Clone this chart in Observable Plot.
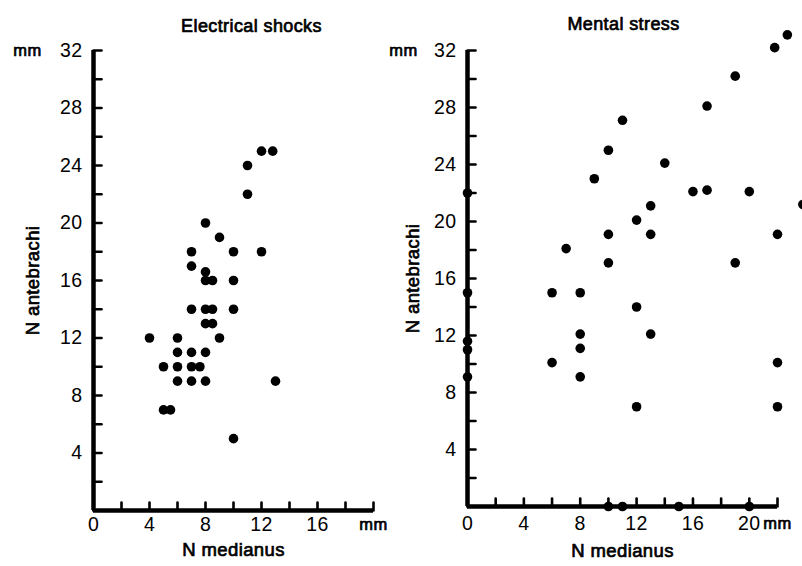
<!DOCTYPE html>
<html>
<head>
<meta charset="utf-8">
<script src="https://cdn.jsdelivr.net/npm/d3@7"></script>
<script src="https://cdn.jsdelivr.net/npm/@observablehq/plot@0.6"></script>
<style>
  html, body { margin: 0; padding: 0; background: #fff; }
  #wrap { display: flex; width: 802px; height: 566px; }
  #wrap svg { flex: none; }
  svg text { letter-spacing: 0.4px; }
</style>
</head>
<body>
<div id="wrap"></div>
<script>
// Electrical shocks: N medianus (mm), N antebrachi (mm)
const shockMedianus   = [12, 12.8, 11, 11, 8, 9, 7, 10, 12, 7, 8, 8, 8.5, 10, 7, 8, 8.5, 10, 8, 8.5, 4, 6, 9, 6, 7, 8, 5, 6, 7, 7.6, 6, 7, 8, 13, 5, 5.5, 10];
const shockAntebrachi = [25, 25, 24, 22, 20, 19, 18, 18, 18, 17, 16.6, 16, 16, 16, 14, 14, 14, 14, 13, 13, 12, 12, 12, 11, 11, 11, 10, 10, 10, 10, 9, 9, 9, 9, 7, 7, 5];

// Mental stress
const stressMedianus   = [22.7, 21.8, 19, 17, 11, 10, 14, 9, 0, 16, 17, 20, 13, 23.8, 12, 10, 13, 22, 7, 10, 19, 0, 6, 8, 12, 8, 13, 0, 0, 8, 6, 22, 0, 8, 12, 22, 10, 11, 15, 20];
const stressAntebrachi = [33.1, 32.2, 30.2, 28.1, 27.1, 25, 24.1, 23, 22, 22.1, 22.2, 22.1, 21.1, 21.2, 20.1, 19.1, 19.1, 19.1, 18.1, 17.1, 17.1, 15, 15, 15, 14, 12.1, 12.1, 11.6, 11, 11.1, 10.1, 10.1, 9.1, 9.1, 7, 7, 0, 0, 0, 0];

const titles = ["Electrical shocks", "Mental stress"];
const xTitle = "N medianus";
const yTitle = "N antebrachi";
const unit = "mm";

const yTicks = d3.range(0, 33, 2);
const yLabels = [4, 8, 12, 16, 20, 24, 28, 32];
const xTicksShock = d3.range(0, 21, 2);
const xLabelsShock = [0, 4, 8, 12, 16];
const xTicksStress = d3.range(0, 23, 2);
const xLabelsStress = [0, 4, 8, 12, 16, 20];

const FONT = "Liberation Sans, Arial, sans-serif";
const tickShape = { draw(context, l) { context.moveTo(0, 0); context.lineTo(0, -l); } };
const ink = { fill: "#000", stroke: "#000", strokeWidth: 0.7 };

function panel(cfg) {
  const pts = cfg.xs.map((x, i) => ({ x, y: cfg.ys[i] }));
  return Plot.plot({
    width: cfg.w,
    height: 566,
    marginLeft: cfg.ml,
    marginRight: cfg.mr,
    marginTop: 50,
    marginBottom: cfg.mb,
    style: { fontFamily: FONT, fontSize: "18px", color: "#000", background: "#fff" },
    x: { domain: cfg.xDomain, axis: null },
    y: { domain: [0, 32], axis: null },
    marks: [
      Plot.ruleX([0], { stroke: "#000", strokeWidth: 4.5 }),
      Plot.ruleY([0], { stroke: "#000", strokeWidth: 4.5 }),
      Plot.vector(cfg.xTicks, { x: d => d, y: 0, length: 8, rotate: 0, anchor: "start", shape: tickShape, stroke: "#000", strokeWidth: 2.6 }),
      Plot.vector(yTicks, { x: 0, y: d => d, length: 8, rotate: 90, anchor: "start", shape: tickShape, stroke: "#000", strokeWidth: 2.6 }),
      Plot.axisX({ ticks: cfg.xLabels, tickSize: 0, tickPadding: cfg.xPad, label: null, tickFormat: d => String(d), fontSize: 19.5, ...ink }),
      Plot.text([unit], { x: cfg.xDomain[1], frameAnchor: "bottom", lineAnchor: "top", dy: cfg.xPad + 1, fontSize: 16.5, ...ink }),
      Plot.axisY({ ticks: yLabels, tickSize: 0, tickPadding: 11, label: null, tickFormat: d => String(d), fontSize: 19.5, ...ink }),
      Plot.text([unit], { y: 32, frameAnchor: "left", textAnchor: "middle", dx: cfg.mmDx, fontSize: 16.5, ...ink }),
      Plot.text([xTitle], { frameAnchor: "bottom", dy: cfg.xtDy, fontSize: 18.5, ...ink }),
      Plot.text([yTitle], { frameAnchor: "left", textAnchor: "middle", dx: cfg.ytDx, rotate: -90, fontSize: 18.5, ...ink }),
      Plot.text([cfg.title], { frameAnchor: "top", dx: cfg.titleDx, dy: cfg.titleDy, fontSize: 18, ...ink }),
      Plot.dot(pts, { x: "x", y: "y", r: 4.8, fill: "#000", stroke: null, clip: false })
    ]
  });
}

const wrap = document.getElementById("wrap");
wrap.appendChild(panel({
  title: titles[0], xs: shockMedianus, ys: shockAntebrachi,
  xDomain: [0, 20], xTicks: xTicksShock, xLabels: xLabelsShock,
  w: 388, ml: 93, mr: 15, mb: 56, xPad: 7, mmDx: -66, xtDy: 45, ytDx: -60, titleDx: 18, titleDy: -31
}));
wrap.appendChild(panel({
  title: titles[1], xs: stressMedianus, ys: stressAntebrachi,
  xDomain: [0, 22], xTicks: xTicksStress, xLabels: xLabelsStress,
  w: 414, ml: 79, mr: 25, mb: 60, xPad: 10, mmDx: -64, xtDy: 50, ytDx: -54, titleDx: 1, titleDy: -33
}));
</script>
</body>
</html>
